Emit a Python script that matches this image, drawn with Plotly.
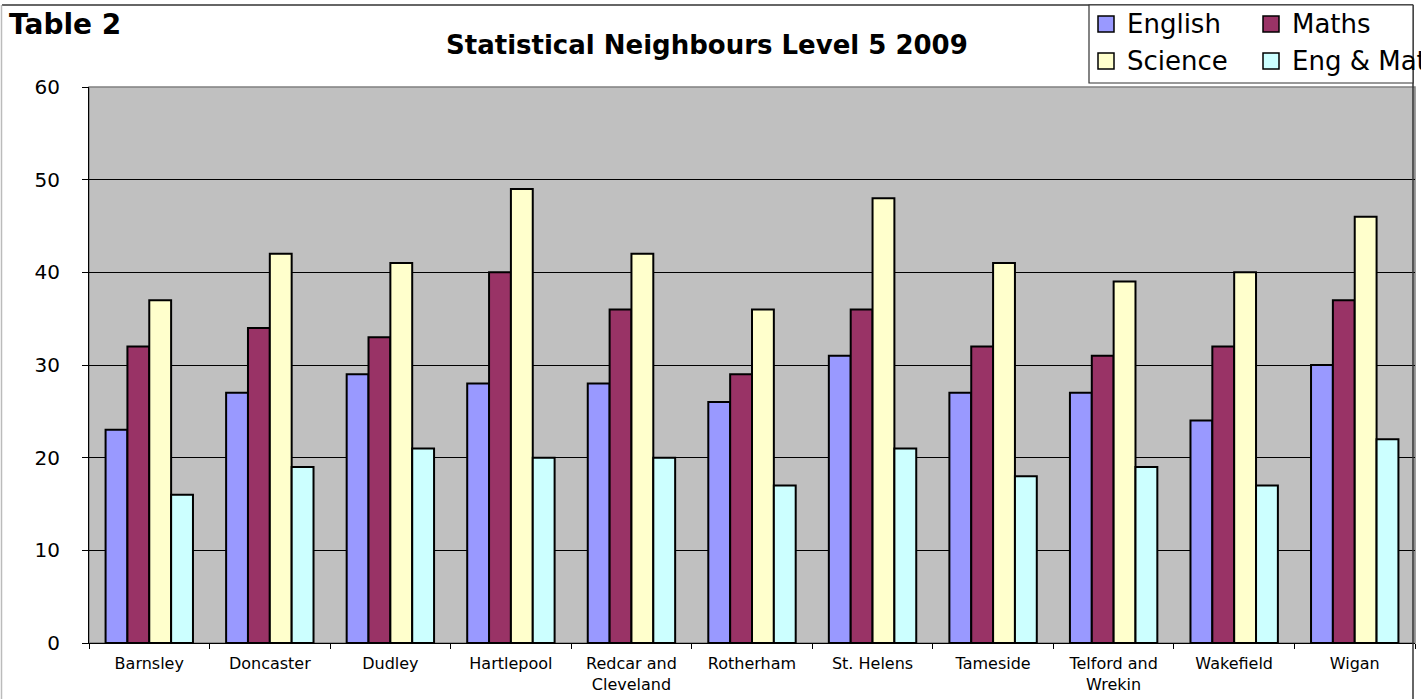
import plotly.graph_objects as go

categories = ["Barnsley", "Doncaster", "Dudley", "Hartlepool", "Redcar and<br>Cleveland",
              "Rotherham", "St. Helens", "Tameside", "Telford and<br>Wrekin", "Wakefield", "Wigan"]
english = [23, 27, 29, 28, 28, 26, 31, 27, 27, 24, 30]
maths = [32, 34, 33, 40, 36, 29, 36, 32, 31, 32, 37]
science = [37, 42, 41, 49, 42, 36, 48, 41, 39, 40, 46]
eng_maths = [16, 19, 21, 20, 20, 17, 21, 18, 19, 17, 22]

series_names = ["English", "Maths", "Science", "Eng & Maths"]
series_values = [english, maths, science, eng_maths]
series_colors = ["#9999FF", "#993366", "#FFFFCC", "#CCFFFF"]

FONT = "DejaVu Sans, Liberation Sans, Arial"
W, H = 1421, 699
L, R, T, B = 89, 1415, 87, 643

def px(x):
    return (x - L) / (R - L)

def py(y):
    return (B - y) / (B - T)

fig = go.Figure()
for name, vals, col in zip(series_names, series_values, series_colors):
    fig.add_trace(go.Bar(x=categories, y=vals, name=name, marker_color=col,
                         marker_line_color="black", marker_line_width=2,
                         showlegend=False))

shapes = []
annotations = []
# plot area border (gray)
shapes.append(dict(type="rect", xref="paper", yref="paper", x0=0, x1=1, y0=0, y1=1,
                   line=dict(color="#808080", width=1.5), layer="below"))
# outer chart border
shapes.append(dict(type="line", xref="paper", yref="paper", x0=px(2), x1=px(1413), y0=py(5), y1=py(5),
                   line=dict(color="#333333", width=1.5)))
shapes.append(dict(type="line", xref="paper", yref="paper", x0=px(1.5), x1=px(1.5), y0=py(5), y1=py(699),
                   line=dict(color="#BBBBBB", width=1.5)))
shapes.append(dict(type="line", xref="paper", yref="paper", x0=px(1413), x1=px(1413), y0=py(5), y1=py(699),
                   line=dict(color="#333333", width=1.5)))
# legend box
shapes.append(dict(type="rect", xref="paper", yref="paper", x0=px(1089), x1=px(1413), y0=py(83), y1=py(5),
                   line=dict(color="#333333", width=1.2), fillcolor="white"))
leg_pos = [(1098, 24), (1263, 24), (1098, 61), (1263, 61)]
for (lx, ly), name, col in zip(leg_pos, series_names, series_colors):
    shapes.append(dict(type="rect", xref="paper", yref="paper", x0=px(lx), x1=px(lx + 16),
                       y0=py(ly + 8), y1=py(ly - 8), fillcolor=col,
                       line=dict(color="black", width=1.5)))
    annotations.append(dict(text=name, xref="paper", yref="paper", x=px(lx + 27), y=py(ly),
                            xanchor="left", yanchor="middle", showarrow=False,
                            font=dict(family=FONT, size=26, color="black")))

annotations.append(dict(text="<b>Table 2</b>", xref="paper", yref="paper", x=px(7), y=py(24),
                        xanchor="left", yanchor="middle", showarrow=False,
                        font=dict(family=FONT, size=28, color="black")))
annotations.append(dict(text="<b>Statistical Neighbours Level 5 2009</b>", xref="paper", yref="paper",
                        x=px(707), y=py(45), xanchor="center", yanchor="middle", showarrow=False,
                        font=dict(family=FONT, size=26, color="black")))

fig.update_layout(
    width=W, height=H,
    margin=dict(l=L, r=W - R, t=T, b=H - B, pad=0),
    paper_bgcolor="white", plot_bgcolor="#C0C0C0",
    barmode="group", bargap=0.275, bargroupgap=0,
    shapes=shapes, annotations=annotations,
    font=dict(family=FONT, color="black"),
    xaxis=dict(showline=True, linecolor="black", linewidth=1.2, ticks="outside", ticklen=5,
               tickcolor="black", tickson="boundaries", tickfont=dict(family=FONT, size=16, color="black"),
               ticklabelstandoff=6, showgrid=False, zeroline=False),
    yaxis=dict(range=[0, 60], dtick=10, showline=True, linecolor="black", linewidth=1.2,
               ticks="outside", ticklen=6, tickcolor="black", tickfont=dict(family=FONT, size=20, color="black"),
               ticklabelstandoff=18, showgrid=True, gridcolor="black", gridwidth=1, zeroline=False),
)

fig.write_html("out.html")
